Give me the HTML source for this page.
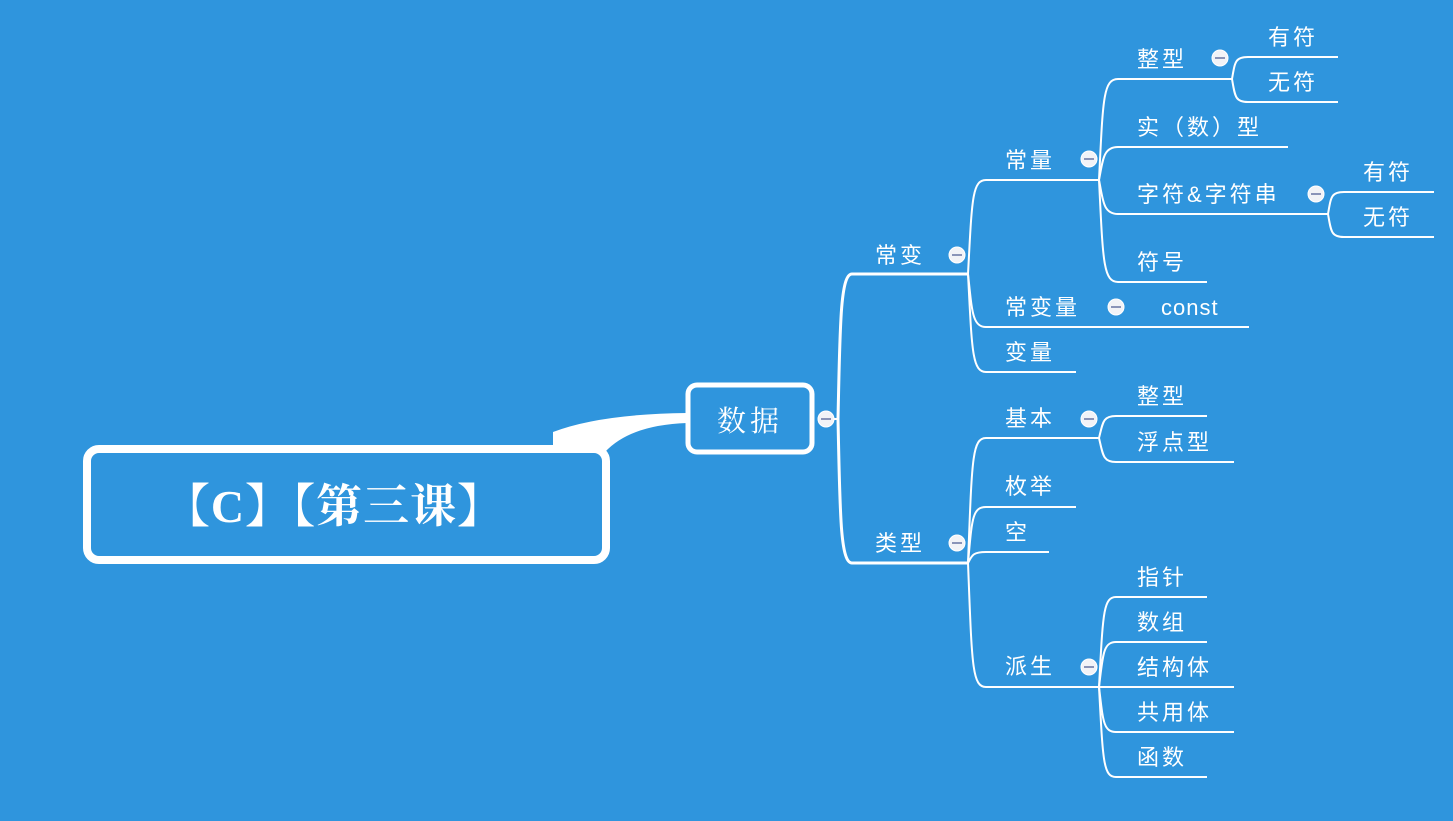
<!DOCTYPE html>
<html><head><meta charset="utf-8"><style>
html,body{margin:0;padding:0;background:#2f95dd;}
svg{display:block}
text{font-family:"Liberation Sans","Noto Sans CJK SC",sans-serif;fill:#fff;font-size:22px;letter-spacing:3px}
</style></head><body>
<svg width="1453" height="821" viewBox="0 0 1453 821" xmlns="http://www.w3.org/2000/svg">
<rect width="1453" height="821" fill="#2f95dd"/>
<g fill="none" stroke="#fff" stroke-width="2">
<path d="M826 419 L838 419" />
<path d="M838 419 C840 330,840 274,852 274 L968 274" stroke-width="3"/>
<path d="M838 419 C840 510,840 563,852 563 L968 563" stroke-width="3"/>
<path d="M968 274 C972 200,972 180,986 180 L1099 180"/>
<path d="M968 274 C972 310,972 327,986 327 L1249 327"/>
<path d="M968 274 C972 350,972 372,986 372 L1076 372"/>
<path d="M1099 180 C1103 100,1103 79,1118 79 L1232 79"/>
<path d="M1099 180 C1103 160,1103 147,1118 147 L1288 147"/>
<path d="M1099 180 C1103 200,1103 214,1118 214 L1328 214"/>
<path d="M1099 180 C1103 260,1103 282,1118 282 L1207 282"/>
<path d="M1232 79 C1235 62,1235 57,1248 57 L1338 57"/>
<path d="M1232 79 C1235 96,1235 102,1248 102 L1338 102"/>
<path d="M1328 214 C1331 197,1331 192,1344 192 L1434 192"/>
<path d="M1328 214 C1331 231,1331 237,1344 237 L1434 237"/>
<path d="M968 563 C972 460,972 438,986 438 L1099 438"/>
<path d="M968 563 C972 520,972 507,986 507 L1076 507"/>
<path d="M968 563 C972 556,972 552,986 552 L1049 552"/>
<path d="M968 563 C972 665,972 687,986 687 L1099 687"/>
<path d="M1099 438 C1103 422,1103 416,1116 416 L1207 416"/>
<path d="M1099 438 C1103 455,1103 462,1116 462 L1234 462"/>
<path d="M1099 687 C1103 615,1103 597,1116 597 L1207 597"/>
<path d="M1099 687 C1103 655,1103 642,1116 642 L1207 642"/>
<path d="M1099 687 L1234 687"/>
<path d="M1099 687 C1103 720,1103 732,1116 732 L1234 732"/>
<path d="M1099 687 C1103 760,1103 777,1116 777 L1207 777"/>
</g>
<path d="M553 450 L553 432 Q600 414 687 413 L687 423 Q630 425 605 452 Z" fill="#fff"/>
<rect x="87" y="449" width="519" height="111" rx="12" fill="#2f95dd" stroke="#fff" stroke-width="8"/>
<text x="334" y="522" text-anchor="middle" style="font-size:46px;font-weight:bold;letter-spacing:1px;font-family:'Liberation Serif','Noto Serif CJK SC',serif">【C】【第三课】</text>
<rect x="688" y="385" width="124" height="67" rx="9" fill="#2f95dd" stroke="#fff" stroke-width="5"/>
<text x="750" y="431" text-anchor="middle" style="font-size:29px;letter-spacing:4px;font-family:'Liberation Serif','Noto Serif CJK SC',serif">数据</text>
<g fill="#f2f3f7" stroke="#fff">
<circle cx="826" cy="419" r="8"/><circle cx="957" cy="255" r="8"/><circle cx="957" cy="543" r="8"/>
<circle cx="1089" cy="159" r="8"/><circle cx="1116" cy="307" r="8"/><circle cx="1220" cy="58" r="8"/>
<circle cx="1316" cy="194" r="8"/><circle cx="1089" cy="419" r="8"/><circle cx="1089" cy="667" r="8"/>
</g>
<g stroke="#8a94b8" stroke-width="2">
<path d="M821 419h10M952 255h10M952 543h10M1084 159h10M1111 307h10M1215 58h10M1311 194h10M1084 419h10M1084 667h10"/>
</g>
<text x="875" y="263">常变</text>
<text x="875" y="551">类型</text>
<text x="1005" y="168">常量</text>
<text x="1005" y="315">常变量</text>
<text x="1161" y="315" style="letter-spacing:1px">const</text>
<text x="1005" y="360">变量</text>
<text x="1137" y="67">整型</text>
<text x="1268" y="45">有符</text>
<text x="1268" y="90">无符</text>
<text x="1137" y="135">实（数）型</text>
<text x="1137" y="202">字符&amp;字符串</text>
<text x="1363" y="180">有符</text>
<text x="1363" y="225">无符</text>
<text x="1137" y="270">符号</text>
<text x="1005" y="426">基本</text>
<text x="1137" y="404">整型</text>
<text x="1137" y="450">浮点型</text>
<text x="1005" y="494">枚举</text>
<text x="1005" y="540">空</text>
<text x="1005" y="674">派生</text>
<text x="1137" y="585">指针</text>
<text x="1137" y="630">数组</text>
<text x="1137" y="675">结构体</text>
<text x="1137" y="720">共用体</text>
<text x="1137" y="765">函数</text>
</svg>
</body></html>
